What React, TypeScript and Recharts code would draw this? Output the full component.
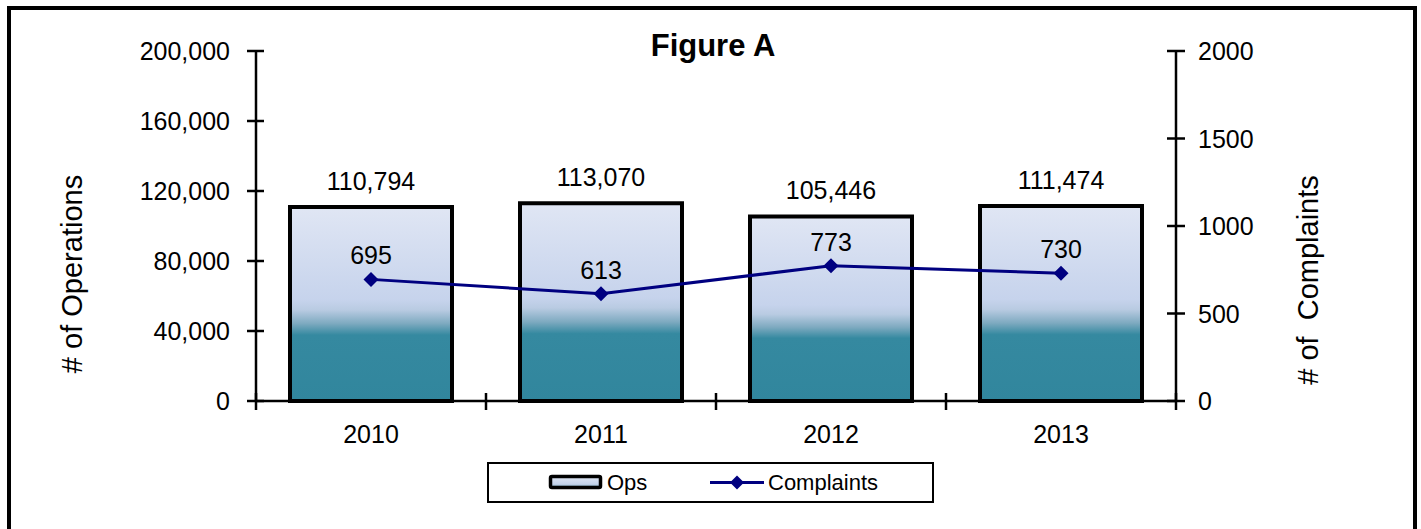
import React from "react";
import { ComposedChart, Bar, Line, XAxis, YAxis, LabelList } from "recharts";

const years = ["2010", "2011", "2012", "2013"];
const ops = [110794, 113070, 105446, 111474];
const complaints = [695, 613, 773, 730];
const opsTicks = [0, 40000, 80000, 120000, 160000, 200000];
const complaintTicks = [0, 500, 1000, 1500, 2000];

const data = years.map((year, i) => ({
  year,
  ops: ops[i],
  complaints: complaints[i],
}));

const FONT = '"Liberation Sans", Arial, sans-serif';
const W = 1421;
const H = 529;
const AXIS_W = 200;
const margin = { top: 51, right: 45, bottom: 68, left: 56 };
const HALF_BAND =
  (W - margin.left - margin.right - 2 * AXIS_W) / years.length / 2;

const fmt = (v: any) => Number(v).toLocaleString("en-US");

const LeftTick = (props: any) => {
  const { x, y, payload } = props;
  return (
    <g>
      <line x1={x - 9} x2={x + 8} y1={y} y2={y} stroke="#000" strokeWidth={2.5} />
      <text x={x - 26} y={y + 9} textAnchor="end" fontSize={25} fontFamily={FONT} fill="#000">
        {fmt(payload.value)}
      </text>
    </g>
  );
};

const RightTick = (props: any) => {
  const { x, y, payload } = props;
  return (
    <g>
      <line x1={x - 9} x2={x + 9} y1={y} y2={y} stroke="#000" strokeWidth={2.5} />
      <text x={x + 22} y={y + 9} textAnchor="start" fontSize={25} fontFamily={FONT} fill="#000">
        {payload.value}
      </text>
    </g>
  );
};

const XTick = (props: any) => {
  const { x, y, payload, index } = props;
  const last = index === years.length - 1;
  return (
    <g>
      <line x1={x - HALF_BAND} x2={x - HALF_BAND} y1={y - 8} y2={y + 9} stroke="#000" strokeWidth={2.5} />
      {last && (
        <line x1={x + HALF_BAND} x2={x + HALF_BAND} y1={y - 8} y2={y + 9} stroke="#000" strokeWidth={2.5} />
      )}
      <text x={x} y={y + 42} textAnchor="middle" fontSize={25} fontFamily={FONT} fill="#000">
        {payload.value}
      </text>
    </g>
  );
};

const axisTitle = (text: string, dx: number, dy: number) => (props: any) => {
  const vb = props.viewBox;
  const cx = vb.x + dx;
  const cy = vb.y + vb.height / 2 + dy;
  return (
    <text
      x={cx}
      y={cy}
      transform={`rotate(-90 ${cx} ${cy})`}
      textAnchor="middle"
      dominantBaseline="central"
      fontSize={29}
      fontFamily={FONT}
      fill="#000"
      style={{ whiteSpace: "pre" }}
    >
      {text}
    </text>
  );
};

const renderDiamond = (props: any) => {
  const { cx, cy, index } = props;
  const r = 7.5;
  return (
    <path
      key={`d-${index}`}
      d={`M${cx},${cy - r}L${cx + r},${cy}L${cx},${cy + r}L${cx - r},${cy}Z`}
      fill="#000080"
    />
  );
};

const App = () => {
  return (
    <div style={{ position: "relative", width: W, height: H, overflow: "hidden", fontFamily: FONT }}>
      <style>{"body{margin:0}"}</style>
      <div
        style={{
          position: "absolute",
          left: 7,
          top: 6,
          width: 1410,
          height: 600,
          border: "4px solid #000",
          boxSizing: "border-box",
        }}
      />
      <div
        style={{
          position: "absolute",
          left: 0,
          width: 1426,
          top: 30,
          textAlign: "center",
          fontSize: 31,
          lineHeight: "31px",
          fontWeight: "bold",
          color: "#000",
          zIndex: 2,
        }}
      >
        Figure A
      </div>
      <div style={{ position: "absolute", left: 0, top: 0 }}>
        <ComposedChart width={W} height={H} data={data} margin={margin}>
          <defs>
            <linearGradient id="opsGrad" x1="0" y1="0" x2="0" y2="1">
              <stop offset="0%" stopColor="#e0e6f4" />
              <stop offset="48%" stopColor="#c6d3ec" />
              <stop offset="53%" stopColor="#b9cbe2" />
              <stop offset="60%" stopColor="#7eaac0" />
              <stop offset="66%" stopColor="#3589a0" />
              <stop offset="100%" stopColor="#31869d" />
            </linearGradient>
          </defs>
          <XAxis
            dataKey="year"
            height={60}
            axisLine={{ stroke: "#000", strokeWidth: 2.5 }}
            tickLine={false}
            tickSize={0}
            tickMargin={0}
            tick={<XTick />}
            interval={0}
          />
          <YAxis
            yAxisId="left"
            width={AXIS_W}
            domain={[0, 200000]}
            ticks={opsTicks}
            axisLine={{ stroke: "#000", strokeWidth: 2.5 }}
            tickLine={false}
            tickSize={0}
            tickMargin={0}
            tick={<LeftTick />}
            interval={0}
            label={axisTitle("# of Operations", 16, 48)}
          />
          <YAxis
            yAxisId="right"
            orientation="right"
            width={AXIS_W}
            domain={[0, 2000]}
            ticks={complaintTicks}
            axisLine={{ stroke: "#000", strokeWidth: 2.5 }}
            tickLine={false}
            tickSize={0}
            tickMargin={0}
            tick={<RightTick />}
            interval={0}
            label={axisTitle("# of  Complaints", 132, 54)}
          />
          <Bar
            yAxisId="left"
            dataKey="ops"
            name="Ops"
            barSize={162}
            fill="url(#opsGrad)"
            stroke="#000"
            strokeWidth={4}
            isAnimationActive={false}
          >
            <LabelList
              dataKey="ops"
              position="top"
              offset={17}
              formatter={fmt}
              fontSize={25}
              fontFamily={FONT}
              fill="#000"
            />
          </Bar>
          <Line
            yAxisId="right"
            dataKey="complaints"
            name="Complaints"
            type="linear"
            stroke="#000080"
            strokeWidth={3}
            dot={renderDiamond}
            activeDot={false}
            isAnimationActive={false}
          >
            <LabelList
              dataKey="complaints"
              position="top"
              offset={15}
              fontSize={25}
              fontFamily={FONT}
              fill="#000"
            />
          </Line>
        </ComposedChart>
      </div>
      <div
        style={{
          position: "absolute",
          left: 487,
          top: 462,
          width: 447,
          height: 41,
          border: "2px solid #000",
          boxSizing: "border-box",
          background: "#fff",
          fontSize: 22,
          color: "#000",
        }}
      >
        <svg width={447} height={37} style={{ position: "absolute", left: 0, top: 0 }}>
          <defs>
            <linearGradient id="legGrad" x1="0" y1="0" x2="0" y2="1">
              <stop offset="0%" stopColor="#dfe6f4" />
              <stop offset="70%" stopColor="#c3d2ea" />
              <stop offset="100%" stopColor="#6fa2b8" />
            </linearGradient>
          </defs>
          <rect x={61.5} y={12.5} width={50} height={11} fill="url(#legGrad)" stroke="#000" strokeWidth={3.5} rx={1.5} />
          <line x1={221} x2={275} y1={18.5} y2={18.5} stroke="#000080" strokeWidth={3} />
          <path d="M248,11.5L255,18.5L248,25.5L241,18.5Z" fill="#000080" />
          <text x={118} y={26} fontSize={22} fontFamily={FONT} fill="#000">
            Ops
          </text>
          <text x={279} y={26} fontSize={22} fontFamily={FONT} fill="#000">
            Complaints
          </text>
        </svg>
      </div>
    </div>
  );
};

export default App;
